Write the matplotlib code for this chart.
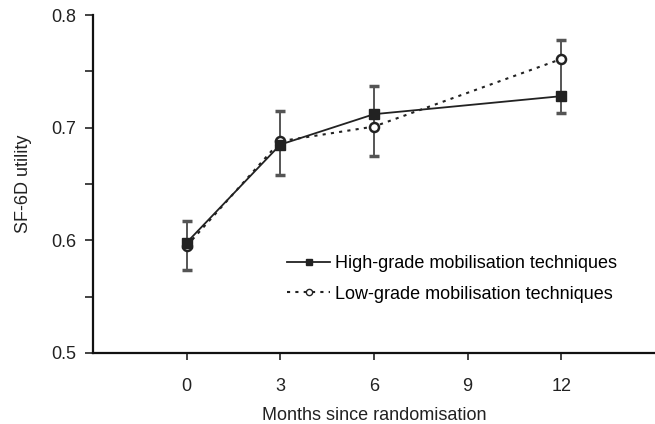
import matplotlib
matplotlib.use("Agg")
import matplotlib.pyplot as plt
from matplotlib.lines import Line2D

plt.rcParams['font.family'] = ['Liberation Sans', 'DejaVu Sans']

months = [0, 3, 6, 12]
high_grade = [0.598, 0.685, 0.712, 0.728]
low_grade = [0.595, 0.688, 0.701, 0.761]
err_lower = [0.574, 0.658, 0.675, 0.713]
err_upper = [0.617, 0.715, 0.737, 0.778]
xticks = [0, 3, 6, 9, 12]
yticks = [0.5, 0.6, 0.7, 0.8]

fig = plt.figure(figsize=(6.55, 4.24), dpi=100)
ax = fig.add_axes([0.142, 0.1675, 0.858, 0.797])

# error bars
yerr = [[h - lo for h, lo in zip(high_grade, err_lower)],
        [up - h for h, up in zip(high_grade, err_upper)]]
ax.errorbar(months, high_grade, yerr=yerr, fmt='none', ecolor='#555555',
            elinewidth=1.4, capsize=3.5, capthick=2.5, zorder=2)

ax.plot(months, low_grade, linestyle=(0, (1.5, 2.5)), color='#222222', lw=1.5,
        marker='o', markersize=6.5, markerfacecolor='white',
        markeredgecolor='#222222', markeredgewidth=1.8, zorder=3)
ax.plot(months, high_grade, linestyle='-', color='#222222', lw=1.3,
        marker='s', markersize=6.5, markerfacecolor='#222222',
        markeredgecolor='#222222', zorder=4)

ax.set_xlim(-3, 15)
ax.set_ylim(0.5, 0.8)
ax.set_xticks(xticks)
ax.set_xticklabels([str(t) for t in xticks])
ax.set_yticks(yticks)
ax.set_yticklabels([f"{t:.1f}" for t in yticks])
ax.set_yticks([0.55, 0.65, 0.75], minor=True)

for s in ['top', 'right']:
    ax.spines[s].set_visible(False)
for s in ['left', 'bottom']:
    ax.spines[s].set_linewidth(1.6)
    ax.spines[s].set_color('#111111')

ax.tick_params(axis='both', which='both', direction='out', colors='#222222',
               labelsize=13, width=1.2)
ax.tick_params(axis='y', which='both', length=6, pad=6)
ax.tick_params(axis='x', which='major', length=5, pad=13)

ax.set_xlabel('Months since randomisation', fontsize=13, labelpad=9, color='#222222')
ax.set_ylabel('SF-6D utility', fontsize=13, labelpad=14, color='#222222')

handles = [
    Line2D([], [], linestyle='-', color='#222222', lw=1.3, marker='s',
           markersize=4.5, markerfacecolor='#222222'),
    Line2D([], [], linestyle=(0, (1.5, 2.5)), color='#222222', lw=1.5, marker='o',
           markersize=4.5, markerfacecolor='white', markeredgecolor='#222222'),
]
ax.legend(handles, ['High-grade mobilisation techniques',
                    'Low-grade mobilisation techniques'],
          loc='upper left', bbox_to_anchor=(0.345, 0.290), frameon=False,
          fontsize=13, handlelength=2.4, handletextpad=0.28, labelspacing=0.76,
          borderpad=0, borderaxespad=0)

fig.savefig('out.png', dpi=100)
